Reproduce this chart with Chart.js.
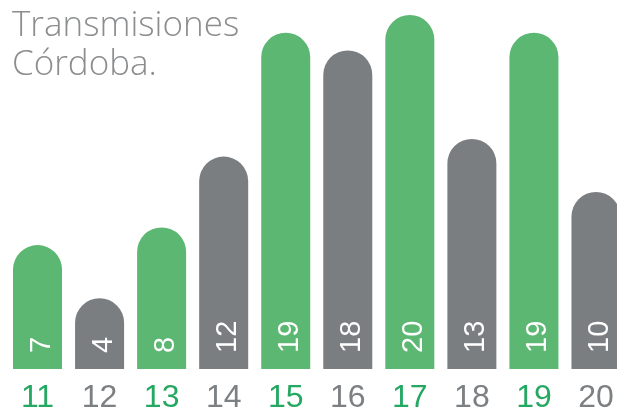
<!DOCTYPE html>
<html>
<head>
<meta charset="utf-8">
<script src="https://cdn.jsdelivr.net/npm/chart.js@4"></script>
<style>
  body { margin: 0; overflow: hidden; background: #fff; }
  #wrap { position: relative; width: 617px; height: 410px; overflow: hidden; }
  #titulo {
    position: absolute; left: 12px; top: 3px;
    font-family: "Open Sans", sans-serif; font-weight: 300;
    font-size: 35px; line-height: 39px; color: #8b8d8f;
  }
</style>
</head>
<body>
<div id="wrap">
  <canvas id="barras" width="627" height="410"></canvas>
  <div id="titulo">Transmisiones<br>Córdoba.</div>
</div>
<script>
// datos
var dias = ['11', '12', '13', '14', '15', '16', '17', '18', '19', '20'];
var transmisiones = [7, 4, 8, 12, 19, 18, 20, 13, 19, 10];

var verde = '#5cb773';
var gris = '#7b7e81';
var verdeTexto = '#25a862';
var grisTexto = '#7d8083';

var coloresBarras = dias.map(function(d, i){ return i % 2 == 0 ? verde : gris; });
var coloresDias = dias.map(function(d, i){ return i % 2 == 0 ? verdeTexto : grisTexto; });

// numeros blancos adentro de cada barra
var valoresAdentro = {
  id: 'valoresAdentro',
  afterDatasetsDraw: function(chart){
    var ctx = chart.ctx;
    var meta = chart.getDatasetMeta(0);
    ctx.save();
    ctx.fillStyle = '#fff';
    ctx.font = '29px "Liberation Sans", Arial, sans-serif';
    ctx.textAlign = 'left';
    ctx.textBaseline = 'alphabetic';
    meta.data.forEach(function(bar, i){
      ctx.save();
      ctx.translate(bar.x + 12, bar.base - 16);
      ctx.rotate(-Math.PI / 2);
      ctx.fillText(String(transmisiones[i]), 0, 0);
      ctx.restore();
    });
    ctx.restore();
  }
};

var ctx = document.getElementById('barras').getContext('2d');
var grafico = new Chart(ctx, {
  type: 'bar',
  data: {
    labels: dias,
    datasets: [{
      data: transmisiones,
      backgroundColor: coloresBarras,
      borderRadius: { topLeft: 25, topRight: 25, bottomLeft: 0, bottomRight: 0 },
      borderSkipped: 'start',
      categoryPercentage: 1,
      barPercentage: 0.79
    }]
  },
  options: {
    responsive: false,
    animation: false,
    layout: { padding: { left: 6.5, right: 0, top: 15, bottom: -9 } },
    plugins: {
      legend: { display: false },
      tooltip: { enabled: false }
    },
    scales: {
      x: {
        grid: { display: false },
        border: { display: false },
        ticks: {
          color: coloresDias,
          padding: 5,
          font: { family: '"Liberation Sans", Arial, sans-serif', size: 32, lineHeight: 1 }
        }
      },
      y: {
        display: false,
        min: 0,
        max: 20
      }
    }
  },
  plugins: [valoresAdentro]
});
</script>
</body>
</html>
